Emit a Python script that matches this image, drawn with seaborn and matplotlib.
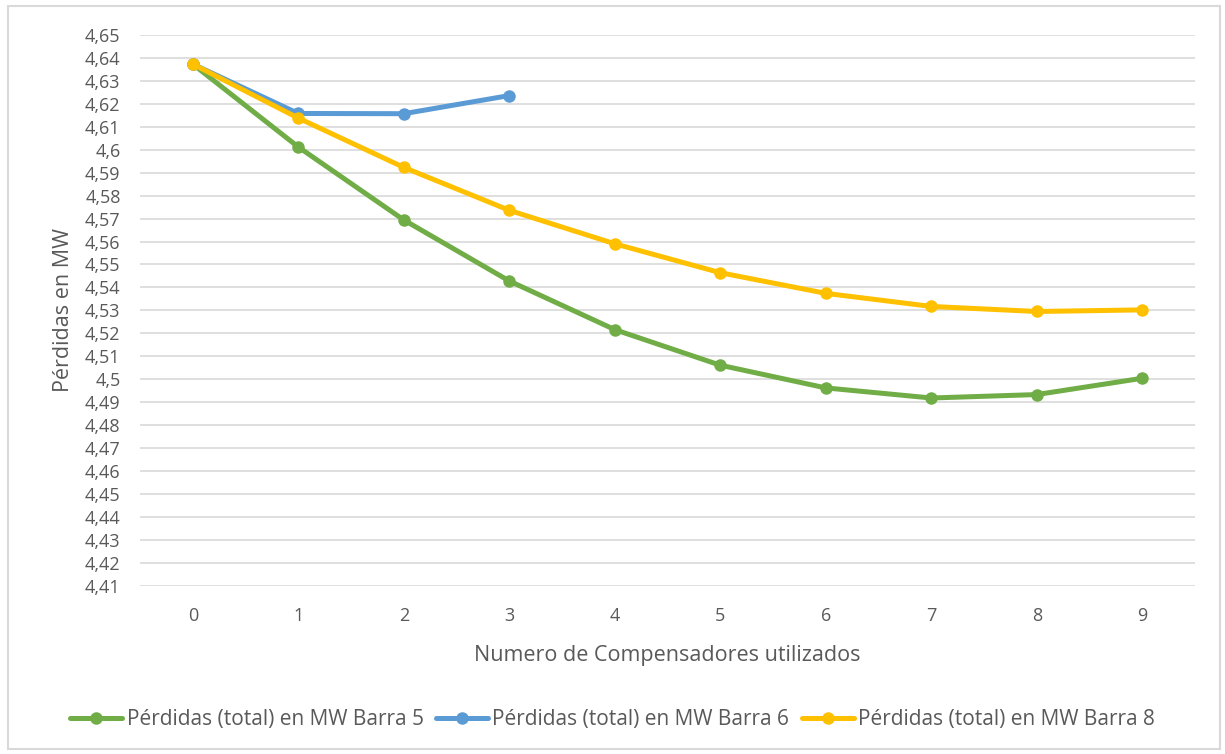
import matplotlib
matplotlib.use("Agg")
import matplotlib.pyplot as plt
import matplotlib.ticker as mticker
from matplotlib.patches import Rectangle
import numpy as np
import pandas as pd
import seaborn as sns

# datos
compensadores = [0, 1, 2, 3, 4, 5, 6, 7, 8, 9]
barra5 = [4.6373, 4.6012, 4.5694, 4.5428, 4.5216, 4.5061, 4.4962, 4.4918, 4.4933, 4.5004]
barra6 = [4.6373, 4.6158, 4.6157, 4.6236]
barra8 = [4.6373, 4.6138, 4.5923, 4.5736, 4.5590, 4.5464, 4.5374, 4.5317, 4.5295, 4.5302]

nombres = [
    "Pérdidas (total) en MW Barra 5",
    "Pérdidas (total) en MW Barra 6",
    "Pérdidas (total) en MW Barra 8",
]
colores = ["#70AD47", "#5B9BD5", "#FFC000"]
y_ticks = np.round(np.arange(4.41, 4.6501, 0.01), 2)

df = pd.concat([
    pd.DataFrame({"n": compensadores[:len(v)], "perdidas": v, "serie": s})
    for v, s in zip([barra5, barra6, barra8], nombres)
])

sns.set_style("white")
plt.rcParams["font.family"] = ["Open Sans", "DejaVu Sans"]
texto = "#595959"

fig = plt.figure(figsize=(12.25, 7.54), dpi=100)
ax = fig.add_axes([0.1143, 0.2232, 0.8612, 0.7304])

for s, c in zip(nombres, colores):
    sns.lineplot(data=df[df["serie"] == s], x="n", y="perdidas", color=c,
                 linewidth=3.6, marker="o", markersize=9, markeredgewidth=0,
                 label=s, ax=ax)

ax.set_xlim(-0.5, 9.5)
ax.set_ylim(4.41, 4.65)
ax.set_xticks(compensadores)
ax.set_yticks(y_ticks)
ax.yaxis.set_major_formatter(mticker.FuncFormatter(
    lambda v, p: f"{round(v, 2):g}".replace(".", ",")))
ax.grid(axis="y", color="#D9D9D9", linewidth=1.2)
ax.set_axisbelow(True)
for sp in ax.spines.values():
    sp.set_visible(False)
ax.tick_params(length=0, labelsize=13, colors=texto)
ax.tick_params(axis="y", pad=14)
ax.tick_params(axis="x", pad=15)

ax.set_xlabel("Numero de Compensadores utilizados", fontsize=15.5, color=texto, labelpad=15)
ax.set_ylabel("Pérdidas en MW", fontsize=15.5, color=texto, labelpad=8)

ax.get_legend().remove()
handles, labels = ax.get_legend_handles_labels()
fig.legend(handles, labels, loc="center", bbox_to_anchor=(0.5, 0.046), ncol=3,
           frameon=False, fontsize=15, labelcolor=texto, handlelength=2.5,
           handletextpad=0.2, columnspacing=0.6)

fig.patches.append(Rectangle((0.0065, 0.006), 0.9895, 0.986, transform=fig.transFigure,
                             fill=False, edgecolor="#D9D9D9", linewidth=1.5))

fig.savefig("out.png", dpi=100)
